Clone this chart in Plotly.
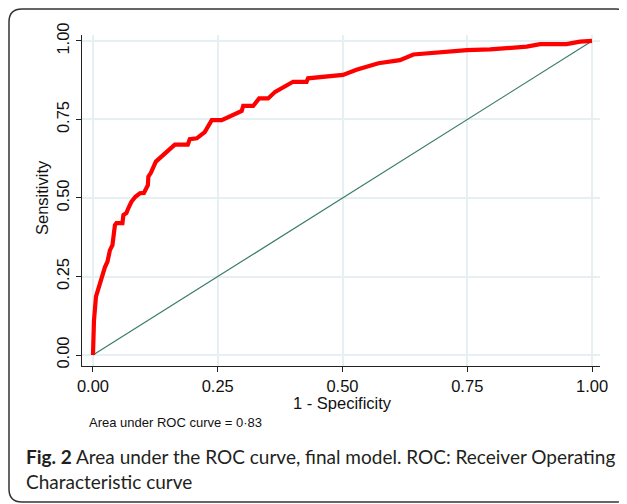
import plotly.graph_objects as go

# ROC curve data (1 - specificity, sensitivity)
fpr = [0.0, 0.002, 0.006, 0.011, 0.015, 0.019, 0.024, 0.029, 0.034, 0.039, 0.044, 0.047,
       0.059, 0.061, 0.067, 0.071, 0.077, 0.085, 0.094, 0.102, 0.110, 0.111, 0.116, 0.126,
       0.138, 0.151, 0.164, 0.190, 0.194, 0.208, 0.224, 0.238, 0.258, 0.298, 0.301, 0.321,
       0.333, 0.351, 0.365, 0.401, 0.428, 0.431, 0.501, 0.528, 0.572, 0.615, 0.625, 0.642,
       0.749, 0.796, 0.869, 0.896, 0.949, 0.976, 1.0]
tpr = [0.0, 0.110, 0.186, 0.213, 0.223, 0.255, 0.280, 0.297, 0.334, 0.350, 0.414, 0.420,
       0.420, 0.446, 0.452, 0.468, 0.488, 0.504, 0.515, 0.516, 0.541, 0.568, 0.580, 0.616,
       0.632, 0.650, 0.670, 0.670, 0.687, 0.690, 0.710, 0.748, 0.748, 0.777, 0.793, 0.793,
       0.817, 0.817, 0.838, 0.870, 0.870, 0.881, 0.892, 0.908, 0.929, 0.939, 0.947, 0.957,
       0.971, 0.973, 0.982, 0.990, 0.990, 0.998, 1.0]
ref_x = [0.0, 1.0]
ref_y = [0.0, 1.0]
tick_vals = [0.0, 0.25, 0.5, 0.75, 1.0]
tick_text = ["0.00", "0.25", "0.50", "0.75", "1.00"]

# the page body adds an 8px offset; lay out in screenshot pixels and compensate
OFF = 8
SW, SH = 627, 504
W, H = SW - OFF, SH - OFF
pl, pr, pt, pb = 82, 600, 35, 366   # plot area in screenshot pixels
L, T = pl - OFF, pt - OFF
R, B = SW - pr, SH - pb
pw, ph = W - L - R, H - T - B

def px(x):
    return (x - OFF - L) / pw

def py(y):
    return (H - B - (y - OFF)) / ph

fig = go.Figure()
fig.add_trace(go.Scatter(x=ref_x, y=ref_y, mode="lines",
                         line=dict(color="#3b7b6b", width=1.2), hoverinfo="skip"))
fig.add_trace(go.Scatter(x=fpr, y=tpr, mode="lines",
                         line=dict(color="#ff0000", width=4.2), hoverinfo="skip"))

axis_common = dict(
    tickvals=tick_vals, ticktext=tick_text, showgrid=True, gridcolor="#e6eff1",
    gridwidth=1.5, zeroline=False, showline=True, linecolor="#222", linewidth=1,
    ticks="outside", ticklen=5, tickcolor="#222", automargin=False,
    tickfont=dict(family="Liberation Sans, Arial", size=16.5, color="#111"),
)
fig.update_xaxes(range=[-0.022, 1.016], **axis_common)
fig.update_yaxes(range=[-0.035, 1.019], tickangle=-90, **axis_common)

font = "Liberation Sans, Arial"
ann = [
    dict(x=px(342), y=py(403), text="1 - Specificity", size=16.5, family=font, color="#111", xanchor="center"),
    dict(x=px(87), y=py(422), text="Area under ROC curve = 0·83", size=13, family=font, color="#111", xanchor="left"),
    dict(x=px(24), y=py(456), text="<b>Fig. 2</b> Area under the ROC curve, final model. ROC: Receiver Operating",
         size=19, family="Lato", color="#231f20", xanchor="left"),
    dict(x=px(24), y=py(481), text="Characteristic curve", size=19, family="Lato", color="#231f20", xanchor="left"),
]
annotations = [dict(xref="paper", yref="paper", x=a["x"], y=a["y"], text=a["text"], showarrow=False,
                    xanchor=a["xanchor"], yanchor="middle",
                    font=dict(size=a["size"], family=a["family"], color=a["color"])) for a in ann]
annotations.append(dict(xref="paper", yref="paper", x=px(42), y=py(198), text="Sensitivity", textangle=-90,
                        showarrow=False, xanchor="center", yanchor="middle",
                        font=dict(size=16.5, family=font, color="#111")))

# rounded frame
x0, x1, y0, y1, r = 9, 629, 9, 502, 13
path = (f"M {px(x0+r)},{py(y0)} L {px(x1-r)},{py(y0)} Q {px(x1)},{py(y0)} {px(x1)},{py(y0+r)} "
        f"L {px(x1)},{py(y1-r)} Q {px(x1)},{py(y1)} {px(x1-r)},{py(y1)} "
        f"L {px(x0+r)},{py(y1)} Q {px(x0)},{py(y1)} {px(x0)},{py(y1-r)} "
        f"L {px(x0)},{py(y0+r)} Q {px(x0)},{py(y0)} {px(x0+r)},{py(y0)} Z")

fig.update_layout(
    width=W, height=H, margin=dict(l=L, r=R, t=T, b=B, autoexpand=False),
    paper_bgcolor="white", plot_bgcolor="white", showlegend=False,
    annotations=annotations,
    shapes=[dict(type="path", xref="paper", yref="paper", path=path,
                 line=dict(color="#333", width=1.5))],
)
fig.write_html("out.html")
